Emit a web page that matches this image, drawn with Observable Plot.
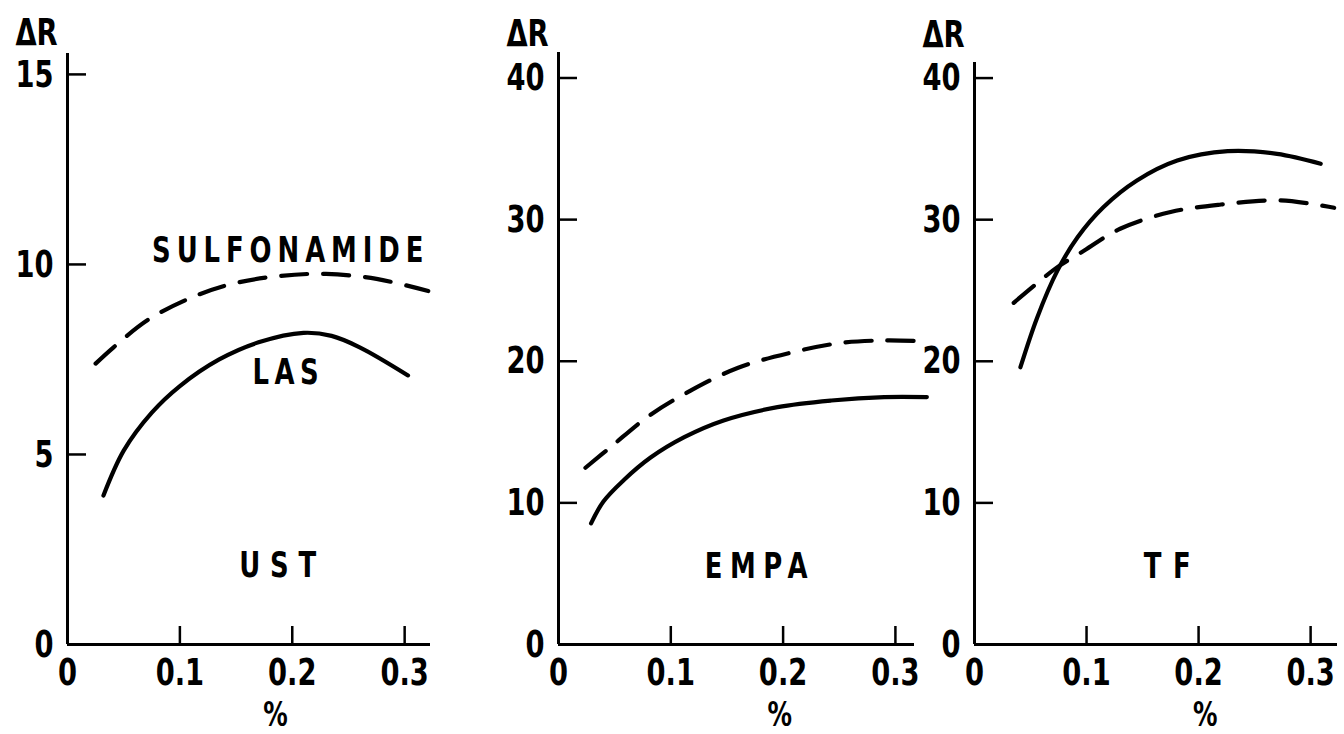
<!DOCTYPE html>
<html><head><meta charset="utf-8">
<script src="https://cdn.jsdelivr.net/npm/d3@7"></script>
<script src="https://cdn.jsdelivr.net/npm/@observablehq/plot@0.6"></script>
<style>
body{margin:0;background:#fff;}
#wrap{position:relative;width:1344px;height:734px;overflow:hidden;background:#fff;}
#wrap svg{position:absolute;top:0;overflow:visible;background:transparent;}
</style></head><body><div id="wrap"></div>
<script>
// ---- tick values & labels
const xTicks = [0, 0.1, 0.2, 0.3];
const xTickLabels = ["0", "0.1", "0.2", "0.3"];
const yTicksUST = [0, 5, 10, 15];
const yTicksOther = [0, 10, 20, 30, 40];

// ---- panel names & curve labels
const panelNames = ["UST", "EMPA", "TF"];
const curveLabels = ["SULFONAMIDE", "LAS"];

// ---- UST panel
const ustSulfX = [0.025, 0.041, 0.072, 0.112, 0.148, 0.19, 0.23, 0.275, 0.321];
const ustSulfY = [7.39, 7.82, 8.55, 9.15, 9.5, 9.7, 9.75, 9.62, 9.30];
const ustLasX = [0.032, 0.05, 0.075, 0.10, 0.135, 0.17, 0.21, 0.235, 0.26, 0.303];
const ustLasY = [3.92, 5.1, 6.1, 6.8, 7.5, 7.95, 8.2, 8.12, 7.82, 7.08];

// ---- EMPA panel
const empaDashX = [0.024, 0.047, 0.081, 0.118, 0.160, 0.205, 0.250, 0.291, 0.321];
const empaDashY = [12.48, 13.98, 16.17, 17.94, 19.54, 20.57, 21.28, 21.47, 21.42];
const empaSolidX = [0.029, 0.040, 0.058, 0.082, 0.112, 0.147, 0.195, 0.243, 0.290, 0.328];
const empaSolidY = [8.55, 10.1, 11.6, 13.2, 14.64, 15.82, 16.76, 17.23, 17.47, 17.47];

// ---- TF panel
const tfSolidX = [0.041, 0.056, 0.074, 0.092, 0.115, 0.145, 0.181, 0.226, 0.270, 0.309];
const tfSolidY = [19.58, 23.1, 26.4, 28.76, 30.88, 32.77, 34.18, 34.84, 34.65, 33.95];
const tfDashX = [0.035, 0.057, 0.074, 0.098, 0.130, 0.175, 0.220, 0.273, 0.321];
const tfDashY = [24.13, 25.59, 26.65, 27.82, 29.36, 30.54, 31.07, 31.36, 30.84];

const FONT = "'DejaVu Sans',sans-serif";
const SQUEEZE = 0.72;
const spacing = {SULFONAMIDE: 8.2, LAS: 7.5, UST: 13.6, EMPA: 10.4, TF: 16};
const pts = (xs, ys) => xs.map((x, i) => ({x, y: ys[i]}));

function panel(cfg) {
  const marks = [
    Plot.ruleY([0], {strokeWidth: 3}),
    Plot.ruleX([0], {strokeWidth: 3}),
    Plot.axisX({ticks: xTicks, tickSize: 18, dy: -18, tickFormat: () => "", strokeWidth: 2.5, label: null}),
    Plot.axisX({ticks: xTicks, tickSize: 0, tickPadding: 14, tickFormat: d => xTickLabels[xTicks.indexOf(d)],
      fontSize: 38, fontWeight: "bold", label: null}),
    Plot.axisY({ticks: cfg.yTicks.filter(d => d > 0), tickSize: 19, dx: 19, tickFormat: () => "", strokeWidth: 2.5, label: null}),
    Plot.axisY({ticks: cfg.yTicks, tickSize: 0, tickPadding: 14, tickFormat: d => String(d),
      fontSize: 38, fontWeight: "bold", label: null}),
    Plot.text(["\u0394R"], {frameAnchor: "top-left", textAnchor: "middle", lineAnchor: "middle",
      dx: -31, dy: cfg.arDy, fontSize: 38, fontWeight: "bold"}),
    Plot.text(["%"], {x: [cfg.pctX], frameAnchor: "bottom", lineAnchor: "middle", dy: 71, fontSize: 34, fontWeight: "bold"}),
  ];
  for (const s of cfg.series) {
    marks.push(Plot.line(s.data, {x: "x", y: "y", curve: "catmull-rom", strokeWidth: 4.2,
      strokeLinecap: "round", strokeDasharray: s.dashed ? "26,16" : null}));
  }
  for (const l of cfg.labels) {
    marks.push(Plot.text([l.text], {x: [l.x], y: [l.y], fontSize: 36, fontWeight: "bold",
      dx: spacing[l.text] * SQUEEZE / 2}));
  }
  const chart = Plot.plot({
    width: cfg.width, height: 734,
    marginLeft: cfg.ml, marginRight: cfg.mr, marginTop: cfg.mt, marginBottom: 90,
    x: {domain: [0, cfg.xMax]}, y: {domain: [0, cfg.yMax]},
    style: {background: "transparent", overflow: "visible", fontFamily: FONT, color: "#000"},
    marks
  });
  chart.style.left = cfg.left + "px";
  document.getElementById("wrap").appendChild(chart);
  // narrow stencil-like lettering, as in the original
  d3.select(chart).selectAll("text").each(function() {
    const sel = d3.select(this);
    const tr = sel.attr("transform") || "";
    sel.attr("transform", tr + ` scale(${SQUEEZE},1)`);
    const t = this.textContent;
    if (spacing[t] != null) sel.attr("letter-spacing", spacing[t] + "px");
  });
}

panel({left: 0, width: 440, ml: 67, mr: 10, mt: 53, xMax: 0.323, yMax: 15.55, yTicks: yTicksUST, arDy: -21, pctX: 0.185,
  series: [{data: pts(ustSulfX, ustSulfY), dashed: true}, {data: pts(ustLasX, ustLasY), dashed: false}],
  labels: [{text: curveLabels[0], x: 0.196, y: 10.37}, {text: curveLabels[1], x: 0.194, y: 7.16}, {text: panelNames[0], x: 0.187, y: 2.08}]});

panel({left: 440, width: 490, ml: 118, mr: 16, mt: 52, xMax: 0.317, yMax: 41.8, yTicks: yTicksOther, arDy: -19, pctX: 0.197,
  series: [{data: pts(empaDashX, empaDashY), dashed: true}, {data: pts(empaSolidX, empaSolidY), dashed: false}],
  labels: [{text: panelNames[1], x: 0.176, y: 5.5}]});

panel({left: 880, width: 464, ml: 94, mr: 7, mt: 62, xMax: 0.324, yMax: 41.1, yTicks: yTicksOther, arDy: -28, pctX: 0.206,
  series: [{data: pts(tfSolidX, tfSolidY), dashed: false}, {data: pts(tfDashX, tfDashY), dashed: true}],
  labels: [{text: panelNames[2], x: 0.172, y: 5.5}]});
</script></body></html>
